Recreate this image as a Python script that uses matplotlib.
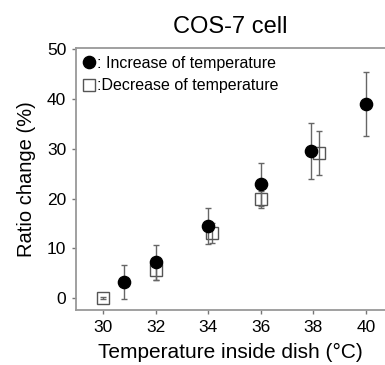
import numpy as np
import matplotlib
matplotlib.use("Agg")
import matplotlib.pyplot as plt
from matplotlib.lines import Line2D

plt.rcParams['font.family'] = ['Liberation Sans', 'DejaVu Sans']

# increase of temperature (filled circles)
inc_x = [30.8, 32, 34, 36, 37.9, 40]
inc_y = [3.3, 7.2, 14.5, 22.9, 29.6, 39.0]
inc_err = [3.4, 3.5, 3.7, 4.3, 5.7, 6.5]

# decrease of temperature (open squares)
dec_x = [30, 32, 34.15, 36, 38.2]
dec_y = [0.0, 5.6, 13.1, 19.9, 29.2]
dec_err = [0.2, 1.9, 2.1, 1.7, 4.5]

xticks = [30, 32, 34, 36, 38, 40]
yticks = [0, 10, 20, 30, 40, 50]

fig = plt.figure(figsize=(3.85, 3.65), dpi=100)
ax = fig.add_axes([76/385, 1 - 310/365, 309/385, 262/365])

ax.errorbar(dec_x, dec_y, yerr=dec_err, fmt='s', ms=9, mfc='none', mec='#555555', mew=1.0,
            ecolor='#666666', elinewidth=1.0, capsize=2, capthick=1.0, zorder=2)
ax.errorbar(inc_x, inc_y, yerr=inc_err, fmt='o', ms=8.8, mfc='black', mec='black',
            ecolor='#666666', elinewidth=1.0, capsize=2, capthick=1.0, zorder=3)

ax.set_xlim(28.97, 40.72)
ax.set_ylim(-2.4, 50.3)
ax.set_xticks(xticks)
ax.set_yticks(yticks)
ax.tick_params(labelsize=12.5, length=3, width=1, color='#777777', pad=4)

for s in ['left', 'bottom', 'top']:
    ax.spines[s].set_color('#999999')
    ax.spines[s].set_linewidth(1.3)
ax.spines['right'].set_visible(False)

ax.set_title('COS-7 cell', fontsize=17, pad=11)
ax.set_xlabel('Temperature inside dish (°C)', fontsize=15, labelpad=6)
ax.set_ylabel('Ratio change (%)', fontsize=14.5, labelpad=8)

handles = [
    Line2D([], [], marker='o', ls='none', ms=8.8, mfc='black', mec='black'),
    Line2D([], [], marker='s', ls='none', ms=9, mfc='none', mec='#555555', mew=1.0),
]
ax.legend(handles, [': Increase of temperature', ':Decrease of temperature'],
          loc='upper left', bbox_to_anchor=(-0.015, 1.012), frameon=False, fontsize=11.5,
          handlelength=0.8, handletextpad=0.1, labelspacing=0.45, borderaxespad=0.3)

fig.savefig('out.png', dpi=100)
